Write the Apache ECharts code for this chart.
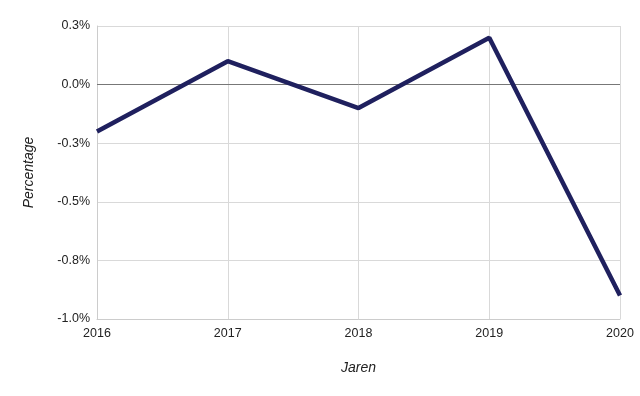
<!DOCTYPE html>
<html>
<head>
<meta charset="utf-8">
<script src="https://cdn.jsdelivr.net/npm/echarts@6/dist/echarts.min.js"></script>
<style>
html,body{margin:0;padding:0;background:#fff;}
#c{width:640px;height:396px;}
</style>
</head>
<body>
<div id="c"></div>
<script>
const categories = ['2016', '2017', '2018', '2019', '2020'];
const values = [-0.2, 0.1, -0.1, 0.2, -0.9];
const yTicks = { min: -1.0, max: 0.25, step: 0.25 };
const xName = 'Jaren';
const yName = 'Percentage';

const chart = echarts.init(document.getElementById('c'), null, { renderer: 'canvas' });
const font = '"Liberation Sans", Arial, sans-serif';
chart.setOption({
  animation: false,
  backgroundColor: '#ffffff',
  grid: { left: 97, right: 20, top: 26, bottom: 77, containLabel: false },
  xAxis: {
    type: 'category',
    data: categories,
    boundaryGap: false,
    name: xName,
    nameLocation: 'middle',
    nameGap: 42,
    nameTextStyle: { fontFamily: font, fontSize: 14, fontStyle: 'italic', color: '#222' },
    axisLine: { show: true, onZero: false, lineStyle: { color: '#cccccc', width: 1 } },
    axisTick: { show: false },
    axisLabel: { fontFamily: font, fontSize: 12.5, color: '#222', margin: 8 },
    splitLine: { show: true, lineStyle: { color: '#d9d9d9', width: 1 } }
  },
  yAxis: {
    type: 'value',
    min: yTicks.min,
    max: yTicks.max,
    interval: yTicks.step,
    name: yName,
    nameLocation: 'middle',
    nameGap: 61,
    nameTextStyle: { fontFamily: font, fontSize: 14, fontStyle: 'italic', color: '#222' },
    axisLine: { show: true, lineStyle: { color: '#cccccc', width: 1 } },
    axisTick: { show: false },
    axisLabel: {
      fontFamily: font, fontSize: 12.5, color: '#222', margin: 7,
      formatter: v => v.toFixed(1) + '%'
    },
    splitLine: { show: true, lineStyle: { color: '#d9d9d9', width: 1 } }
  },
  series: [{
    type: 'line',
    data: values,
    symbol: 'none',
    lineStyle: { color: '#1f205e', width: 4.5 },
    itemStyle: { color: '#1f205e' },
    markLine: {
      silent: true,
      symbol: 'none',
      label: { show: false },
      lineStyle: { color: '#777777', width: 1, type: 'solid' },
      data: [{ yAxis: 0 }],
      z: 1
    },
    z: 3
  }]
});
</script>
</body>
</html>
